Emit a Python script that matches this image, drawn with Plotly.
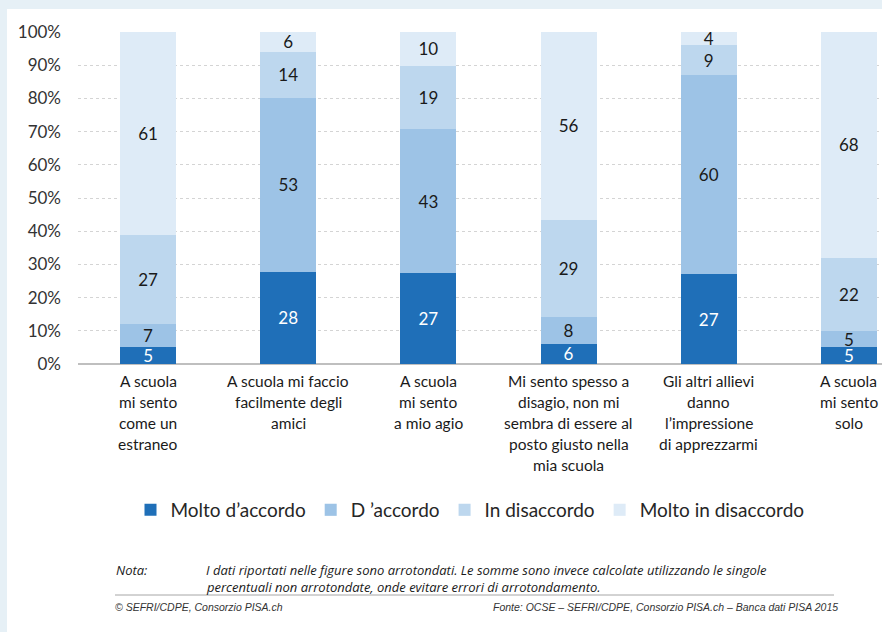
import plotly.graph_objects as go

# ---------------- data ----------------
categories = [
    "A scuola<br>mi sento<br>come un<br>estraneo",
    "A scuola mi faccio<br>facilmente degli<br>amici",
    "A scuola<br>mi sento<br>a mio agio",
    "Mi sento spesso a<br>disagio, non mi<br>sembra di essere al<br>posto giusto nella<br>mia scuola",
    "Gli altri allievi<br>danno<br>l’impressione<br>di apprezzarmi",
    "A scuola<br>mi sento<br>solo",
]
series_names = ["Molto d’accordo", "D ’accordo", "In disaccordo", "Molto in disaccordo"]
molto_accordo = [5, 28, 27, 6, 27, 5]
accordo = [7, 53, 43, 8, 60, 5]
disaccordo = [27, 14, 19, 29, 9, 22]
molto_disaccordo = [61, 6, 10, 56, 4, 68]
y_ticks = [0, 10, 20, 30, 40, 50, 60, 70, 80, 90, 100]
y_tick_labels = [f"{v}%" for v in y_ticks]

nota_label = "Nota:"
nota_lines = [
    "I dati riportati nelle figure sono arrotondati. Le somme sono invece calcolate utilizzando le singole",
    "percentuali non arrotondate, onde evitare errori di arrotondamento.",
]
footer_left = "© SEFRI/CDPE, Consorzio PISA.ch"
footer_right = "Fonte: OCSE – SEFRI/CDPE, Consorzio PISA.ch – Banca dati PISA 2015"

# ---------------- style ----------------
colors = ["#1f6fb8", "#9dc3e6", "#bdd7ee", "#deebf7"]
text_colors = ["#ffffff", "#1a1a1a", "#1a1a1a", "#1a1a1a"]
FONT = "Lato, 'Noto Sans', sans-serif"
NOTE_FONT = "'Open Sans', Lato, sans-serif"
FOOT_FONT = "'Liberation Sans', Arial, sans-serif"

W, H = 882, 632
L, R, T, B = 78, 0, 32, 268
PW, PH = W - L - R, H - T - B


def px2x(px):
    return (px - L) / PW


def px2y(py):
    return (H - B - py) / PH


fig = go.Figure()
values = [molto_accordo, accordo, disaccordo, molto_disaccordo]
for name, vals, col, tcol in zip(series_names, values, colors, text_colors):
    fig.add_trace(go.Bar(
        x=categories,
        y=vals,
        name=name,
        marker=dict(color=col, line=dict(width=0)),
        text=vals,
        texttemplate="%{text}",
        textposition="inside",
        insidetextanchor="middle",
        textangle=0,
        constraintext="none",
        textfont=dict(family=FONT, size=17, color=tcol),
        hoverinfo="skip",
    ))

annotations = []
# category labels, one annotation per line
for cat in categories:
    for i, line in enumerate(cat.split("<br>")):
        annotations.append(dict(
            x=cat, xref="x", y=0, yref="paper",
            text=line, showarrow=False,
            xanchor="center", yanchor="middle",
            yshift=-(17 + i * 21),
            font=dict(family=FONT, size=15.5, color="#1a1a1a"),
        ))

# note
annotations.append(dict(
    x=px2x(114), y=px2y(570), xref="paper", yref="paper",
    text="<i>" + nota_label + "</i>", showarrow=False,
    xanchor="left", yanchor="middle",
    font=dict(family=NOTE_FONT, size=13, color="#1a1a1a"),
))
for i, line in enumerate(nota_lines):
    annotations.append(dict(
        x=px2x(204), y=px2y(570 + i * 17), xref="paper", yref="paper",
        text="<i>" + line + "</i>", showarrow=False,
        xanchor="left", yanchor="middle",
        font=dict(family=NOTE_FONT, size=13, color="#1a1a1a"),
    ))
annotations.append(dict(
    x=px2x(113), y=px2y(607), xref="paper", yref="paper",
    text="<i>" + footer_left + "</i>", showarrow=False,
    xanchor="left", yanchor="middle",
    font=dict(family=FOOT_FONT, size=10.5, color="#333333"),
))
annotations.append(dict(
    x=px2x(840), y=px2y(607), xref="paper", yref="paper",
    text="<i>" + footer_right + "</i>", showarrow=False,
    xanchor="right", yanchor="middle",
    font=dict(family=FOOT_FONT, size=10.5, color="#333333"),
))

shapes = [
    # white card over light-blue page background
    dict(type="rect", xref="paper", yref="paper",
         x0=px2x(7), x1=px2x(W + 5), y0=px2y(H + 5), y1=px2y(9),
         fillcolor="#ffffff", line=dict(width=0), layer="below"),
    # separator line above footer
    dict(type="line", xref="paper", yref="paper",
         x0=px2x(115), x1=px2x(834), y0=px2y(595), y1=px2y(595),
         line=dict(color="#a6a6a6", width=1)),
]

fig.update_layout(
    width=W, height=H,
    margin=dict(l=L, r=R, t=T, b=B, pad=0),
    paper_bgcolor="#e6f0f6",
    plot_bgcolor="rgba(0,0,0,0)",
    barmode="stack",
    barnorm="percent",
    bargap=0.6,
    showlegend=True,
    legend=dict(
        orientation="h", traceorder="normal",
        x=px2x(470), xanchor="center", xref="paper",
        y=px2y(510), yanchor="middle", yref="paper",
        font=dict(family=FONT, size=19, color="#262626"),
        bgcolor="rgba(0,0,0,0)",
        itemwidth=30,
    ),
    xaxis=dict(
        range=[-0.5, 5.236],
        showticklabels=False, showgrid=False, zeroline=False, showline=False,
        fixedrange=True,
    ),
    yaxis=dict(
        range=[0, 100],
        tickmode="array", tickvals=y_ticks, ticktext=y_tick_labels,
        showgrid=True, gridcolor="#d4d4d4", griddash="dot", gridwidth=1,
        zeroline=True, zerolinecolor="#bfbfbf", zerolinewidth=1.5,
        showline=False, ticks="", ticklabelstandoff=16,
        tickfont=dict(family=FONT, size=17, color="#333333"),
        fixedrange=True,
    ),
    annotations=annotations,
    shapes=shapes,
)

fig.write_html(
    "out.html",
    config={"displayModeBar": False},
    post_script="document.body.style.margin='0';document.body.style.padding='0';",
)
